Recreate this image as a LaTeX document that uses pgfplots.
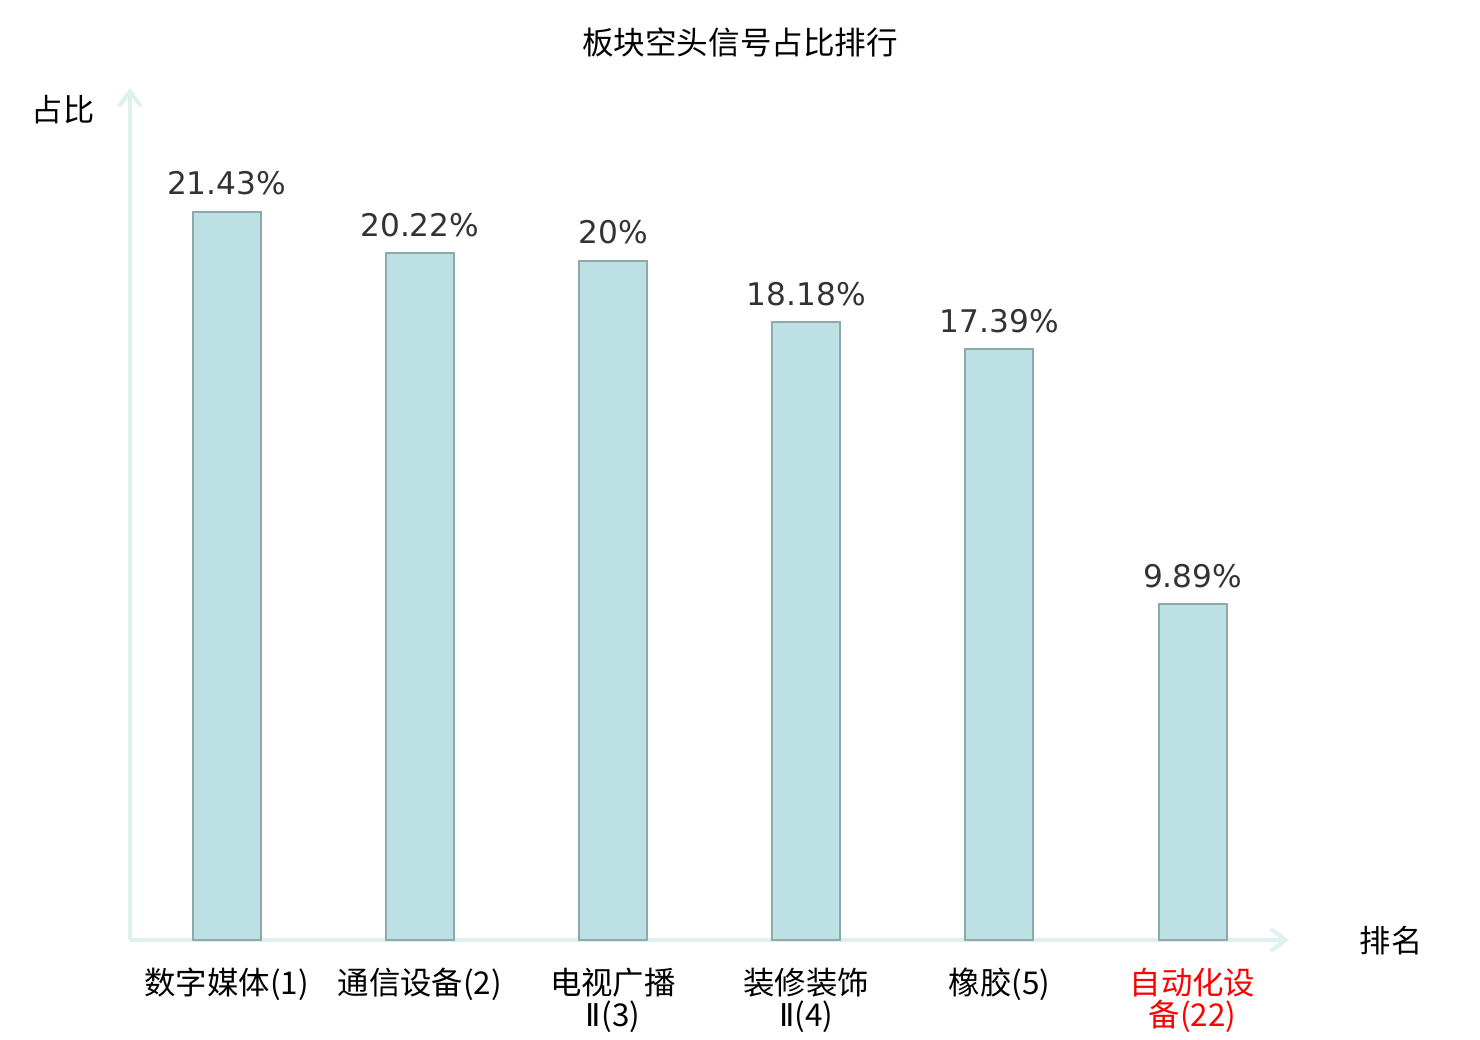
\documentclass[border=0pt]{standalone}
\usepackage{fontspec}
\setmainfont{Noto Sans CJK SC}
\newfontfamily\valfont{DejaVu Sans}
\usepackage{pgfplots}
\pgfplotsset{compat=1.18}
\usetikzlibrary{arrows.meta}
\definecolor{barfill}{HTML}{BCE0E3}
\definecolor{baredge}{HTML}{8DA9AA}
\definecolor{axiscol}{HTML}{DDF1EE}
\definecolor{valcol}{HTML}{333333}
\begin{document}
\begin{tikzpicture}
\path[use as bounding box] (0,0) rectangle (740pt,520pt);
\begin{axis}[
  at={(65pt,50pt)}, anchor=south west,
  scale only axis, width=579.6pt, height=426pt,
  xmin=-0.5, xmax=5.5, ymin=0, ymax=25.08,
  axis x line=bottom, axis y line=left,
  axis line style={draw=axiscol, line width=2pt, -{Straight Barb[length=7.5pt,width=11pt,line width=2pt]}},
  ytick=\empty,
  xtick={0,1,2,3,4,5},
  xticklabels={{数字媒体(1)},{通信设备(2)},{电视广播\\{\valfont Ⅱ}(3)},{装修装饰\\{\valfont Ⅱ}(4)},{橡胶(5)},{\color{red}自动化设\\\color{red}备(22)}},
  xtick style={draw=none},
  xticklabel style={anchor=north, inner sep=0pt, yshift=-9.5pt, align=center, font=\fontsize{15.7}{16}\selectfont, text=black},
  ybar, bar width=34pt,
  nodes near coords={\valfont\pgfmathprintnumber{\pgfplotspointmeta}\%},
  nodes near coords style={anchor=base, inner sep=0pt, yshift=8.5pt, text=valcol, font=\fontsize{15.6}{18}\selectfont},
  /pgf/number format/assume math mode=true,
  clip=false,
]
\addplot[fill=barfill, draw=baredge, line width=1pt] coordinates {
  (0,21.43) (1,20.22) (2,20) (3,18.18) (4,17.39) (5,9.89)
};
\end{axis}
\node[font=\fontsize{15.8}{18}\selectfont] at (370pt,499pt) {板块空头信号占比排行};
\node[font=\fontsize{15.6}{18}\selectfont] at (31.5pt,465pt) {占比};
\node[font=\fontsize{15.6}{18}\selectfont] at (695.5pt,49.5pt) {排名};
\end{tikzpicture}
\end{document}
